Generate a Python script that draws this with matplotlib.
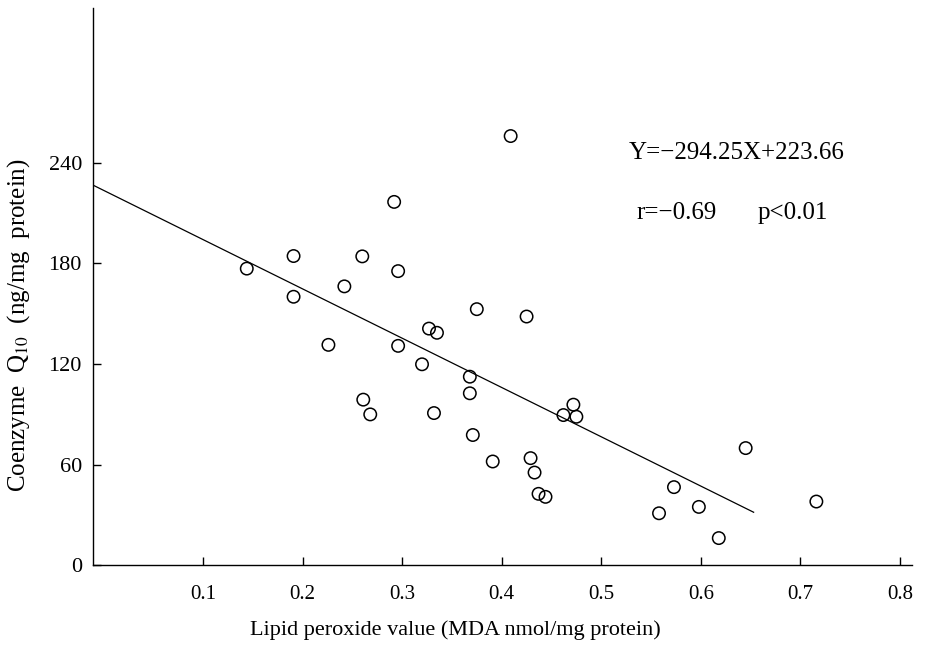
import matplotlib
matplotlib.use("Agg")
import matplotlib.pyplot as plt
import numpy as np

plt.rcParams['font.family'] = ['Liberation Serif', 'DejaVu Serif']
plt.rcParams['mathtext.fontset'] = 'stix'

# lipid peroxide (MDA nmol/mg protein) vs coenzyme Q10 (ng/mg protein)
mda = [0.144, 0.191, 0.191, 0.409, 0.292, 0.260, 0.296, 0.242, 0.375, 0.425,
       0.327, 0.335, 0.226, 0.296, 0.320, 0.368, 0.368, 0.261, 0.268, 0.332,
       0.472, 0.462, 0.475, 0.371, 0.391, 0.429, 0.433, 0.437, 0.444, 0.645,
       0.573, 0.598, 0.558, 0.618, 0.716]
coq10 = [176.9, 184.4, 160.1, 256.0, 216.7, 184.2, 175.4, 166.3, 152.7, 148.3,
         141.1, 138.6, 131.4, 130.8, 119.8, 112.4, 102.5, 98.7, 89.9, 90.7,
         95.7, 89.5, 88.5, 77.6, 61.8, 63.8, 55.2, 42.5, 40.7, 69.8,
         46.5, 34.7, 30.9, 16.1, 37.9]

slope = -294.25
intercept = 223.66
line_end = 0.653

xticks = [0.1, 0.2, 0.3, 0.4, 0.5, 0.6, 0.7, 0.8]
yticks = [0, 60, 120, 180, 240]

fig = plt.figure(figsize=(9.32, 6.54), dpi=100)
ax = fig.add_axes([0.0998, 0.136, 0.8787, 0.852])

xmin, xmax = -0.0104, 0.812
ax.set_xlim(xmin, xmax)
ax.set_ylim(0, 332.5)

ax.scatter(mda, coq10, s=80, facecolors='none', edgecolors='black', linewidths=1.1, zorder=3)

lx = np.array([xmin, line_end])
ax.plot(lx, slope * lx + intercept, color='black', lw=0.9)

ax.spines['top'].set_visible(False)
ax.spines['right'].set_visible(False)
ax.spines['left'].set_linewidth(1.0)
ax.spines['bottom'].set_linewidth(1.0)

ax.set_xticks(xticks)
ax.set_xticklabels([str(t) for t in xticks])
ax.set_yticks(yticks)
ax.set_yticklabels([str(t) for t in yticks])
ax.tick_params(direction='in', length=6, width=1)
ax.tick_params(axis='x', pad=14, labelsize=15)
ax.tick_params(axis='y', pad=8, labelsize=16)

ax.set_xlabel('Lipid peroxide value (MDA nmol/mg protein)', fontsize=16)
ax.xaxis.set_label_coords(0.442, -0.099)
ax.set_ylabel('Coenzyme  Q$_{10}$  (ng/mg  protein)', fontsize=18)
ax.yaxis.set_label_coords(-0.0745, 0.431)

ax.text(0.654, 0.740, 'Y=\u2212294.25X+223.66', transform=ax.transAxes,
        fontsize=18, va='center', ha='left')
ax.text(0.664, 0.632, 'r=\u22120.69', transform=ax.transAxes,
        fontsize=18, va='center', ha='left')
ax.text(0.811, 0.632, 'p<0.01', transform=ax.transAxes,
        fontsize=18, va='center', ha='left')

fig.savefig('out.png', dpi=100)
